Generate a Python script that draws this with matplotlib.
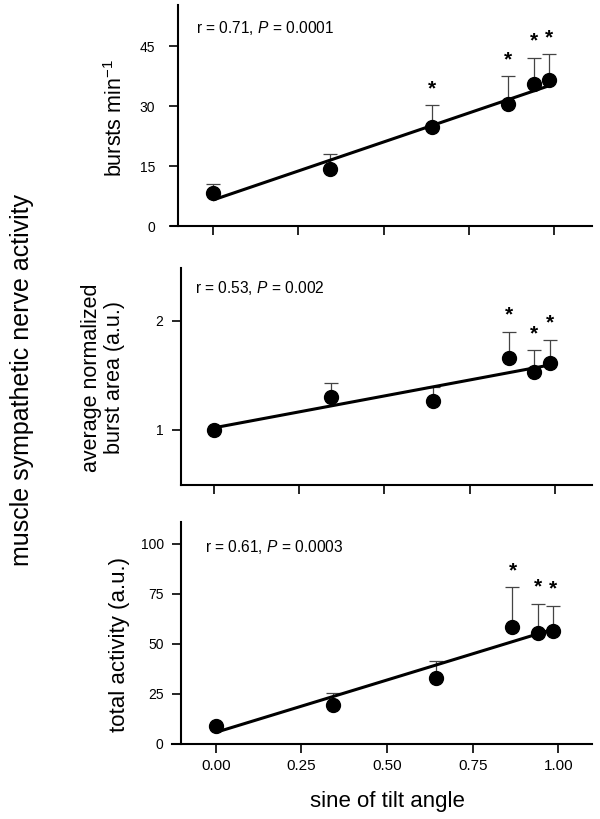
import matplotlib
matplotlib.use("Agg")
import matplotlib.pyplot as plt
import numpy as np

plt.rcParams['font.family'] = ['Liberation Sans', 'DejaVu Sans']
plt.rcParams['mathtext.fontset'] = 'custom'
plt.rcParams['mathtext.rm'] = 'Liberation Sans'
plt.rcParams['mathtext.it'] = 'Liberation Sans:italic'

# ---- data ----
sine_tilt = [0.0, 0.342, 0.643, 0.866, 0.940, 0.985]

bursts_mean = [8.2, 14.2, 24.8, 30.5, 35.5, 36.5]
bursts_sem = [2.2, 3.8, 5.4, 6.9, 6.6, 6.5]
bursts_sig = [False, False, True, True, True, True]
bursts_fit = (6.5, 29.0)          # intercept, slope
bursts_stat = "r = 0.71, $\\it{P}$ = 0.0001"

area_mean = [1.0, 1.305, 1.27, 1.66, 1.535, 1.61]
area_sem = [0.0, 0.13, 0.12, 0.24, 0.195, 0.22]
area_sig = [False, False, False, True, True, True]
area_fit = (1.02, 0.585)
area_stat = "r = 0.53, $\\it{P}$ = 0.002"

total_mean = [9.0, 19.5, 33.2, 58.3, 55.7, 56.7]
total_sem = [0.0, 6.2, 8.5, 20.0, 14.3, 12.3]
total_sig = [False, False, False, True, True, True]
total_fit = (5.8, 52.4)
total_stat = "r = 0.61, $\\it{P}$ = 0.0003"

x_ticks = [0.0, 0.25, 0.5, 0.75, 1.0]
x_ticklabels = ["0.00", "0.25", "0.50", "0.75", "1.00"]

fig = plt.figure(figsize=(6.0, 8.19), dpi=100)

panels = [
    dict(rect=[0.285, 0.72405, 0.70167, 0.26984], xlim=(-0.123, 1.111), ylim=(0, 55.25),
         yticks=[0, 15, 30, 45], mean=bursts_mean, sem=bursts_sem, sig=bursts_sig,
         fit=bursts_fit, stat=bursts_stat, stat_pos=(0.059, 0.896), spine_off=0.0166,
         ypad=10),
    dict(rect=[0.30117, 0.40781, 0.685, 0.26532], xlim=(-0.098, 1.108), ylim=(0.495, 2.489),
         yticks=[1, 2], mean=area_mean, sem=area_sem, sig=area_sig,
         fit=area_fit, stat=area_stat, stat_pos=(0.035, 0.907), spine_off=0.0,
         ypad=6),
    dict(rect=[0.28667, 0.09158, 0.70, 0.2707], xlim=(-0.1275, 1.098), ylim=(0, 110.85),
         yticks=[0, 25, 50, 75, 100], mean=total_mean, sem=total_sem, sig=total_sig,
         fit=total_fit, stat=total_stat, stat_pos=(0.079, 0.889), spine_off=0.0214,
         ypad=6),
]

x = np.array(sine_tilt)
for i, p in enumerate(panels):
    ax = fig.add_axes(p['rect'])
    ax.set_xlim(*p['xlim'])
    ax.set_ylim(*p['ylim'])
    for s in ['top', 'right']:
        ax.spines[s].set_visible(False)
    for s in ['left', 'bottom']:
        ax.spines[s].set_linewidth(1.5)
    ax.spines['left'].set_position(('axes', p['spine_off']))
    ax.spines['left'].set_bounds(p['ylim'][0], p['ylim'][1])

    mean = np.array(p['mean'])
    sem = np.array(p['sem'])
    # regression line
    xl = np.array([x.min(), x.max()])
    ax.plot(xl, p['fit'][0] + p['fit'][1] * xl, color='black', lw=2.2, zorder=2,
            solid_capstyle='butt')
    # upper error bars
    ax.errorbar(x, mean, yerr=[np.zeros_like(sem), sem], fmt='none', ecolor='#444444',
                elinewidth=0.9, capsize=4.7, capthick=0.9, zorder=1)
    ax.plot(x, mean, 'o', color='black', markersize=10, zorder=3)
    for xi, m, e, sg in zip(x, mean, sem, p['sig']):
        if sg:
            ax.annotate('*', xy=(xi, m + e), xytext=(0, 8), textcoords='offset points',
                        ha='center', va='baseline', fontsize=15, fontweight='bold')
    ax.text(p['stat_pos'][0], p['stat_pos'][1], p['stat'], transform=ax.transAxes,
            ha='left', va='center', fontsize=11.2)

    ax.set_xticks(x_ticks)
    ax.set_yticks(p['yticks'])
    ax.tick_params(axis='both', direction='out', length=6.5, width=1.2)
    ax.tick_params(axis='y', labelsize=10, pad=p['ypad'])
    ax.tick_params(axis='x', labelsize=11, pad=4)
    if i == 2:
        ax.set_xticklabels(x_ticklabels)
    else:
        ax.set_xticklabels([])

# axis labels
fig.text(116 / 600, 1 - 118 / 819, "bursts min$^{\\mathregular{-1}}$", rotation=90,
         ha='center', va='center', fontsize=15.5)
fig.text(103 / 600, 1 - 378 / 819, "average normalized\nburst area (a.u.)", rotation=90,
         ha='center', va='center', fontsize=15.5, linespacing=1.1, multialignment='center')
fig.text(120 / 600, 1 - 644 / 819, "total activity (a.u.)", rotation=90,
         ha='center', va='center', fontsize=16)
fig.text(22 / 600, 1 - 380 / 819, "muscle sympathetic nerve activity", rotation=90,
         ha='center', va='center', fontsize=18)
fig.text(387 / 600, 1 - 802 / 819, "sine of tilt angle", ha='center', va='center',
         fontsize=16)

fig.savefig("out.png", dpi=100)
